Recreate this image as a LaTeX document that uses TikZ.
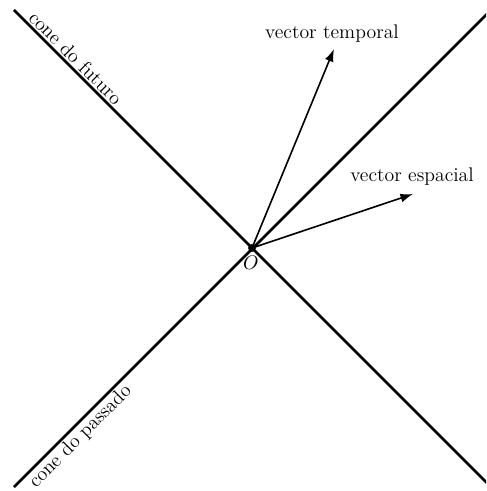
\documentclass[tikz,border=0pt]{standalone}
\usepackage{amsmath,amssymb}
\usetikzlibrary{arrows.meta,positioning,calc}

\begin{document}
\begin{tikzpicture}[x=0.0196cm,y=-0.0196cm,
    cone/.style={line width=1.5pt},
    vec/.style={line width=0.9pt,-{Latex[length=7pt,width=5pt]}},
    lbl/.style={font=\fontsize{11}{13}\selectfont}]
  \useasboundingbox (0,0) rectangle (486,491);
  \clip (0,0) rectangle (486,491);
  % origin and light cone
  \coordinate (O) at (252,248);
  \coordinate (futA) at (14,10);
  \coordinate (futB) at (492,488);
  \coordinate (pasA) at (14,487);
  \coordinate (pasB) at (492,9);
  \draw[cone] (futA) -- (futB);
  \draw[cone] (pasA) -- (pasB);
  \fill (O) circle (2.2pt);
  \node[lbl] (Olbl) at (251,263) {$O$};
  % cone labels
  \path (futA) -- (O) node[lbl,pos=0.23,sloped,above,inner sep=1.5pt] (fut) {cone do futuro};
  \path (pasA) -- (O) node[lbl,pos=0.245,sloped,below,inner sep=1.5pt] (pas) {cone do passado};
  % vectors
  \coordinate (tempEnd) at (334,49);
  \coordinate (espEnd) at (413,194);
  \draw[vec] (O) -- (tempEnd);
  \draw[vec] (O) -- (espEnd);
  \node[lbl] (temp) at (332,34) {vector temporal};
  \node[lbl] (esp) at (412,177) {vector espacial};
\end{tikzpicture}
\end{document}
